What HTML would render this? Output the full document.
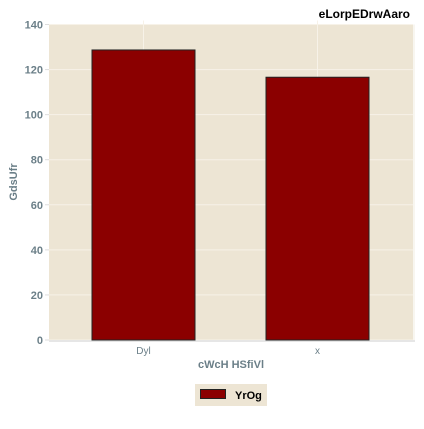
<!DOCTYPE html>
<html><head><style>
body{margin:0;background:#fff;}
svg{font-family:"Liberation Sans",sans-serif;}
</style></head><body>
<svg id="c" width="424" height="424"></svg>
<script>
const categories=["Dyl","x"];
const seriesValues=[128.7,116.6];
const yTicks=[0,20,40,60,80,100,120,140];
const seriesName="YrOg";
const NS="http://www.w3.org/2000/svg";
const svg=document.getElementById('c');
const L=49,R=413,T=24.5,B=340,yMax=140;
const y=v=>B-(v/yMax)*(B-T);
const step=174;
const x=i=>L+94.5+step*i;
function mk(t,a,p){const e=document.createElementNS(NS,t);for(const k in a)e.setAttribute(k,a[k]);(p||svg).appendChild(e);return e;}
const bg=mk('rect',{x:L,y:T,width:R-L,height:B-T,fill:'#ede5d4'});


yTicks.forEach(v=>{
  const g=mk('line',{x1:L,x2:R,y1:y(v),y2:y(v),stroke:'#f7f2e8','stroke-width':1});
  
  
  mk('line',{x1:L-4,x2:L,y1:y(v),y2:y(v),stroke:'#ddd','stroke-width':1});
  const t=mk('text',{x:L-6,y:y(v)+4,'text-anchor':'end','font-size':11,'font-weight':'bold',fill:'#6b7f88'});
  t.textContent=v;
  
  
});
categories.forEach((c,i)=>{
  const g=mk('line',{x1:x(i),x2:x(i),y1:T-4,y2:B,stroke:'#f7f2e8','stroke-width':1});
  
  
});
mk('line',{x1:L,x2:R+2,y1:B+1,y2:B+1,stroke:'#e6e6e6','stroke-width':2});
mk('line',{x1:R+1,x2:R+1,y1:T,y2:B,stroke:'#f0ece2','stroke-width':1});
const bw=103;
categories.forEach((c,i)=>{
  const b=mk('rect',{x:x(i)-bw/2,y:y(seriesValues[i]),width:bw,height:B-y(seriesValues[i]),fill:'#8b0000',stroke:'#222','stroke-width':1});
  
  
  const t=mk('text',{x:x(i),y:B+14,'text-anchor':'middle','font-size':10,fill:'#6b7f88'});
  t.textContent=c;
  
  
});
const xt=mk('text',{x:(L+R)/2,y:368,'text-anchor':'middle','font-size':11,'font-weight':'bold',fill:'#6b7f88'});
xt.textContent='cWcH HSfiVl';


const yt=mk('text',{x:17,y:182,'text-anchor':'middle','font-size':11,'font-weight':'bold',fill:'#6b7f88',transform:'rotate(-90 17 182)'});
yt.textContent='GdsUfr';


const tt=mk('text',{x:410,y:18,'text-anchor':'end','font-size':12,'font-weight':'bold',fill:'#000'});
tt.textContent='eLorpEDrwAaro';


const lg=mk('g',{});


mk('rect',{x:195,y:384,width:72,height:22,fill:'#ede5d4'},lg);
const sw=mk('rect',{x:200.5,y:389.5,width:25,height:9,fill:'#8b0000',stroke:'#222','stroke-width':1},lg);


const lt=mk('text',{x:235,y:399,'font-size':11,'font-weight':'bold',fill:'#000'},lg);
lt.textContent=seriesName;


</script>
</body></html>
